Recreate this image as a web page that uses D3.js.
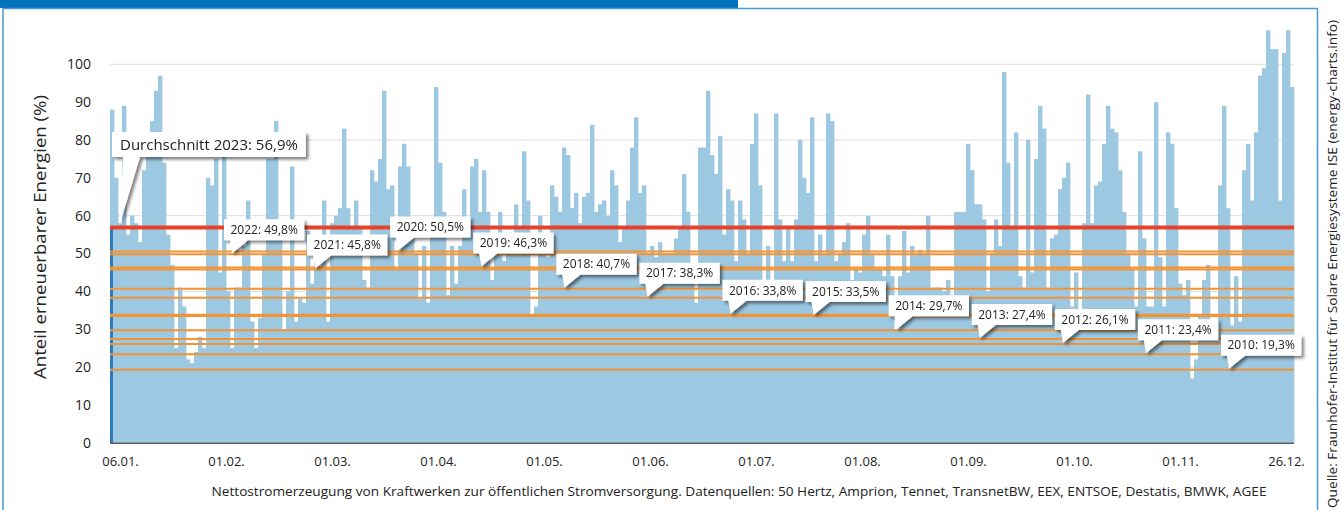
<!DOCTYPE html>
<html>
<head>
<meta charset="utf-8">
<script src="https://d3js.org/d3.v7.min.js"></script>
<style>
  body { margin: 0; background: #fff; }
  svg text { font-family: "Open Sans", sans-serif; fill: #222; }
</style>
</head>
<body>
<div id="vis-container"></div>
<script>
// Anteil erneuerbarer Energien 2023 (one value per ~4 px column)
const shares = [
  88,70,58,89,55,60,58,53,72,78, 85,93,97,74,55,47,25,41,36,22,
  21,24,28,25,70,68,75,45,76,40, 25,41,41,52,64,32,25,33,50,75,
  75,85,55,30,40,73,32,38,37,56, 42,48,46,64,32,58,60,62,83,62,
  57,64,57,43,41,72,69,75,93,67, 68,46,73,79,
  73,55,50,38,52,37,58,94,74,61, 39,52,42,52,67,55,73,75,61,72,
  61,43,50,61,48,50,50,63,57,77, 64,34,36,60,50,49,68,65,61,78,
  76,62,66,58,65,66,84,61,63,64, 60,72,68,53,57,64,78,86,66,68,
  50,52,49,53,50,50,50,54,57,71, 61,43,37,78,
  78,93,76,71,81,55,67,64,48,64, 59,50,79,87,68,43,52,43,87,59,
  48,57,48,59,80,70,66,86,48,55, 50,87,85,48,50,53,58,43,46,45,
  55,60,50,46,46,44,55,44,30,44, 56,45,52,50,51,50,60,41,41,41,
  40,43,39,61,61,61,79,72,63,63, 59,40,50,59,
  52,98,74,57,82,44,41,80,45,75, 89,83,41,54,55,67,70,74,36,45,
  35,58,92,58,68,69,79,89,83,82, 72,61,50,46,36,77,54,36,36,90,
  49,36,82,79,62,42,39,43,17,22, 34,43,47,30,32,68,89,62,31,44,
  32,72,79,64,82,97,99,109,104,104, 64,103,109,94
];

const tickLabels = ["06.01.", "01.02.", "01.03.", "01.04.", "01.05.", "01.06.",
                    "01.07.", "01.08.", "01.09.", "01.10.", "01.11.", "26.12."];

const years = [2022, 2021, 2020, 2019, 2018, 2017, 2016, 2015, 2014, 2013, 2012, 2011, 2010];
const yearAverages = [49.8, 45.8, 50.5, 46.3, 40.7, 38.3, 33.8, 33.5, 29.7, 27.4, 26.1, 23.4, 19.3];
const average2023 = 56.9;

const yTicks = [0, 10, 20, 30, 40, 50, 60, 70, 80, 90, 100];
const gridValues = [20, 40, 60, 80, 100];

const width = 1341;
const height = 510;
const plot = { left: 110, right: 1294, top: 64.3, bottom: 442.7 };

const de = d3.formatLocale({ decimal: ",", thousands: ".", grouping: [3], currency: ["", " €"] });
const pct = de.format(".1f");

const svg = d3.select("#vis-container")
    .append("svg")
    .attr("width", width)
    .attr("height", height)
    .attr("viewBox", [0, 0, width, height]);

// shadow for the callouts
svg.append("defs").append("filter")
    .attr("id", "shadow")
    .attr("x", "-10%").attr("y", "-20%").attr("width", "130%").attr("height", "160%")
    .append("feDropShadow")
    .attr("dx", 2.5).attr("dy", 2.5)
    .attr("stdDeviation", 1.6)
    .attr("flood-color", "#000")
    .attr("flood-opacity", 0.5);

// frame and header strip
svg.append("rect")
    .attr("x", 0).attr("y", 0)
    .attr("width", 738).attr("height", 8)
    .attr("fill", "#0072bc");

svg.append("path")
    .attr("d", `M3,${height + 2}V8.5H1317.5V${height + 2}`)
    .attr("fill", "none")
    .attr("stroke", "#4b98d3")
    .attr("stroke-width", 1.5);

// Scales
const x = d3.scaleBand()
    .domain(d3.range(shares.length))
    .range([plot.left, plot.right])
    .paddingInner(0);

const y = d3.scaleLinear()
    .domain([0, 100])
    .range([plot.bottom, plot.top]);

const xLabels = d3.scalePoint()
    .domain(tickLabels)
    .range([plot.left + 10, plot.right - 8]);

const xCallout = d3.scalePoint()
    .domain(years)
    .range([plot.left + 122, plot.left + 1119]);

// Gridlines
svg.append("g")
    .selectAll("line")
    .data(gridValues)
    .enter()
    .append("line")
        .attr("x1", plot.left)
        .attr("x2", plot.right)
        .attr("y1", (d) => y(d))
        .attr("y2", (d) => y(d))
        .attr("stroke", "#dedede")
        .attr("stroke-width", 1);

// Bars
svg.append("g")
    .selectAll("rect")
    .data(shares)
    .enter()
    .append("rect")
        .attr("x", (d, i) => x(i))
        .attr("y", (d) => y(d))
        .attr("width", x.bandwidth() + 0.4)
        .attr("height", (d) => y(0) - y(d))
        .attr("fill", "#9dc8e1");

// dark marker for the current year at the start
svg.append("rect")
    .attr("x", plot.left)
    .attr("y", y(average2023))
    .attr("width", 3)
    .attr("height", y(0) - y(average2023))
    .attr("fill", "#2b7bbf");

// Axes
svg.append("g")
    .attr("transform", `translate(${plot.left},0)`)
    .call(d3.axisLeft(y).tickValues(yTicks).tickSize(0).tickPadding(19))
    .call((g) => g.select(".domain").remove())
    .call((g) => g.selectAll("text")
        .attr("font-size", "14px")
        .attr("font-family", "'Open Sans', sans-serif")
        .attr("fill", "#222"));

svg.append("g")
    .attr("transform", `translate(0,${plot.bottom})`)
    .call(d3.axisBottom(xLabels).tickSize(0).tickPadding(14))
    .call((g) => g.select(".domain").remove())
    .call((g) => g.selectAll("text")
        .attr("font-size", "13px")
        .attr("font-family", "'Open Sans', sans-serif")
        .attr("fill", "#222"));

svg.append("line")
    .attr("x1", plot.left)
    .attr("x2", plot.right)
    .attr("y1", y(0) + 0.5)
    .attr("y2", y(0) + 0.5)
    .attr("stroke", "#5a5a5a")
    .attr("stroke-width", 1.5);

// Annual averages of earlier years
svg.append("g")
    .selectAll("line")
    .data(yearAverages)
    .enter()
    .append("line")
        .attr("x1", plot.left)
        .attr("x2", plot.right)
        .attr("y1", (d) => y(d))
        .attr("y2", (d) => y(d))
        .attr("stroke", "#f39334")
        .attr("stroke-width", 2);

// Average 2023
svg.append("line")
    .attr("x1", plot.left)
    .attr("x2", plot.right)
    .attr("y1", y(average2023))
    .attr("y2", y(average2023))
    .attr("stroke", "#e5432a")
    .attr("stroke-width", 4);

// Callouts
function callout(bx, by, h, label, size, pad, base0, base1, tipX, tipY) {
    const g = svg.append("g").attr("filter", "url(#shadow)");
    const t = g.append("text")
        .attr("x", bx + pad)
        .attr("y", by + h / 2)
        .attr("dy", "0.35em")
        .attr("font-size", size + "px")
        .text(label);
    const w = t.node().getComputedTextLength() + pad * 2;
    g.insert("path", "text")
        .attr("d", `M${bx},${by}H${bx + w}V${by + h}H${bx + base1}L${tipX},${tipY}L${bx + base0},${by + h}H${bx}Z`)
        .attr("fill", "#fff");
}

years.forEach((yr, i) => {
    const v = yearAverages[i];
    const tipX = xCallout(yr);
    const bx = tipX - 8;
    const by = y(v) - 35;
    callout(bx, by, 21, `${yr}: ${pct(v)}%`, 12, 6.5, 6, 24, tipX, y(v) - 1);
});

callout(plot.left + 2, 132, 25, `Durchschnitt 2023: ${pct(average2023)}%`, 15, 8,
        11, 28, plot.left + 10, y(average2023) - 4);

// Titles
svg.append("text")
    .attr("transform", `translate(46,237) rotate(-90)`)
    .attr("text-anchor", "middle")
    .attr("font-size", "16px")
    .attr("textLength", 284)
    .attr("lengthAdjust", "spacingAndGlyphs")
    .text("Anteil erneuerbarer Energien (%)");

svg.append("text")
    .attr("x", 739)
    .attr("y", 496)
    .attr("text-anchor", "middle")
    .attr("font-size", "12.5px")
    .attr("textLength", 1055)
    .attr("lengthAdjust", "spacingAndGlyphs")
    .text("Nettostromerzeugung von Kraftwerken zur öffentlichen Stromversorgung. Datenquellen: 50 Hertz, Amprion, Tennet, TransnetBW, EEX, ENTSOE, Destatis, BMWK, AGEE");

svg.append("text")
    .attr("transform", `translate(1337,508) rotate(-90)`)
    .attr("font-size", "12.5px")
    .attr("textLength", 488)
    .attr("lengthAdjust", "spacingAndGlyphs")
    .text("Quelle: Fraunhofer-Institut für Solare Energiesysteme ISE (energy-charts.info)");
</script>
</body>
</html>
